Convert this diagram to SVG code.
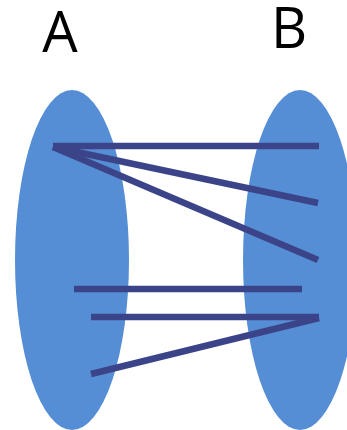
<svg xmlns="http://www.w3.org/2000/svg" width="347" height="430" viewBox="0 0 347 430">
<style>
.set{fill:#558ED5}
.lbl{font-family:"Open Sans","Noto Sans",sans-serif;font-size:56px;fill:#000;text-anchor:middle}
.c line{stroke:#3C4489;stroke-width:6.5}
</style>
<rect width="347" height="430" fill="#fff"/>
<g id="setA"><ellipse class="set" cx="72" cy="260" rx="57" ry="170"/><text class="lbl" x="60" y="52">A</text></g>
<g id="setB"><ellipse class="set" cx="300" cy="260" rx="57" ry="170"/><text class="lbl" x="289" y="48">B</text></g>
<g id="connectors" class="c">
<line x1="53" y1="146" x2="319" y2="146"/>
<line x1="53" y1="147" x2="318" y2="203"/>
<line x1="53" y1="147" x2="318" y2="260"/>
<line x1="74" y1="289" x2="302" y2="289"/>
<line x1="91" y1="317" x2="319" y2="317"/>
<line x1="319" y1="318" x2="91" y2="374"/>
</g>
</svg>
